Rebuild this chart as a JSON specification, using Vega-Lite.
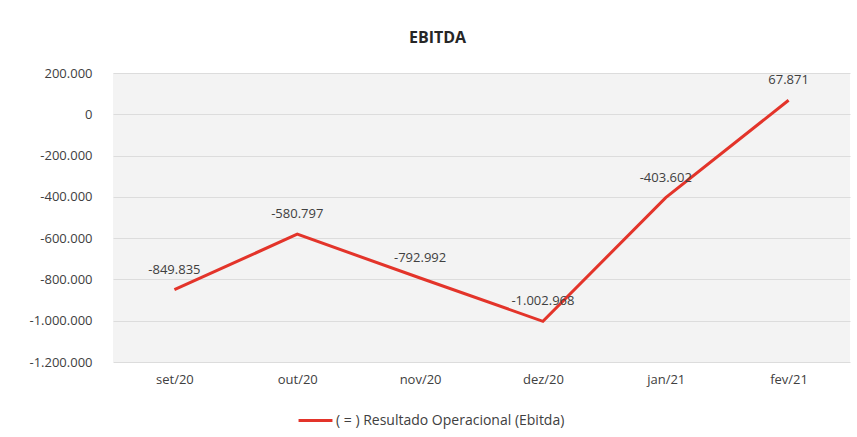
{
  "$schema": "https://vega.github.io/schema/vega-lite/v6.json",
  "autosize": "none",
  "width": 737,
  "height": 289,
  "padding": {"left": 113, "top": 73, "right": 7, "bottom": 75},
  "background": "white",
  "config": {
    "locale": {"number": {"decimal": ",", "thousands": ".", "grouping": [3], "currency": ["R$", ""], "minus": "-"}},
    "view": {"fill": "#f3f3f3", "stroke": null},
    "font": "Open Sans"
  },
  "title": {
    "text": "EBITDA",
    "fontSize": 16,
    "fontWeight": "bold",
    "color": "#262626",
    "font": "Open Sans",
    "anchor": "middle",
    "dx": -44,
    "offset": 21
  },
  "data": {
    "values": [
      {"mes": "set/20", "valor": -849835, "serie": "( = ) Resultado Operacional (Ebitda)"},
      {"mes": "out/20", "valor": -580797, "serie": "( = ) Resultado Operacional (Ebitda)"},
      {"mes": "nov/20", "valor": -792992, "serie": "( = ) Resultado Operacional (Ebitda)"},
      {"mes": "dez/20", "valor": -1002968, "serie": "( = ) Resultado Operacional (Ebitda)"},
      {"mes": "jan/21", "valor": -403602, "serie": "( = ) Resultado Operacional (Ebitda)"},
      {"mes": "fev/21", "valor": 67871, "serie": "( = ) Resultado Operacional (Ebitda)"}
    ]
  },
  "encoding": {
    "x": {
      "field": "mes",
      "type": "ordinal",
      "sort": null,
      "scale": {"type": "point", "padding": 0.5},
      "axis": {
        "title": null,
        "labelAngle": 0,
        "ticks": false,
        "domain": false,
        "grid": false,
        "labelPadding": 11,
        "labelFontSize": 13,
        "labelColor": "#404040",
        "labelFont": "Open Sans"
      }
    },
    "y": {
      "field": "valor",
      "type": "quantitative",
      "scale": {"domain": [-1200000, 200000], "nice": false, "zero": false},
      "axis": {
        "title": null,
        "values": [200000, 0, -200000, -400000, -600000, -800000, -1000000, -1200000],
        "format": ",.0f",
        "ticks": false,
        "domain": false,
        "grid": true,
        "gridColor": "#dcdcdc",
        "gridWidth": 1,
        "labelPadding": 21,
        "labelFontSize": 13,
        "labelColor": "#404040",
        "labelFont": "Open Sans"
      }
    }
  },
  "layer": [
    {
      "mark": {"type": "line", "strokeWidth": 3},
      "encoding": {
        "color": {
          "field": "serie",
          "type": "nominal",
          "scale": {"range": ["#e3342a"]},
          "legend": {
            "title": null,
            "orient": "none",
            "legendX": 184,
            "legendY": 329,
            "symbolType": "stroke",
            "symbolSize": 1150,
            "symbolStrokeWidth": 3,
            "labelFontSize": 14,
            "labelLimit": 400,
            "labelColor": "#404040",
            "labelFont": "Open Sans",
            "labelOffset": 2
          }
        }
      }
    },
    {
      "mark": {"type": "text", "dy": -20, "fontSize": 13, "color": "#404040", "font": "Open Sans"},
      "encoding": {
        "text": {"field": "valor", "type": "quantitative", "format": ",.0f"}
      }
    }
  ]
}
